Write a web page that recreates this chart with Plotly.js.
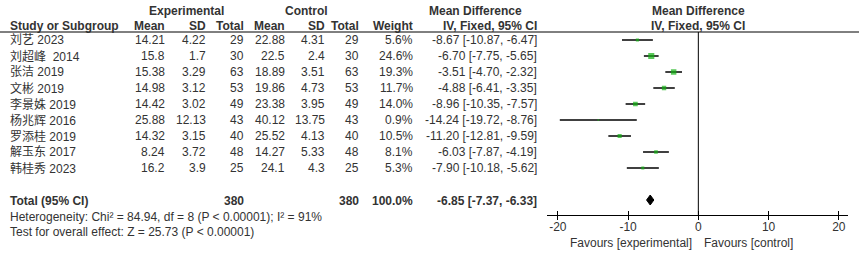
<!DOCTYPE html>
<html>
<head>
<meta charset="utf-8">
<script src="https://cdn.plot.ly/plotly-3.0.1.min.js"></script>
<style>html,body{margin:0;padding:0;background:#fff;}#chart{width:859px;height:256px;}</style>
</head>
<body>
<div id="chart"></div>
<script>
// ---- data ----
const studies = ['刘艺 2023', '刘超峰\u00a0 2014', '张洁 2019', '文彬 2019', '李景姝 2019', '杨兆辉 2016', '罗添桂 2019', '解玉东 2017', '韩桂秀 2023'];
const expMean = [14.21, 15.8, 15.38, 14.98, 14.42, 25.88, 14.32, 8.24, 16.2];
const expSD   = [4.22, 1.7, 3.29, 3.12, 3.02, 12.13, 3.15, 3.72, 3.9];
const expN    = [29, 30, 63, 53, 49, 43, 40, 48, 25];
const ctlMean = [22.88, 22.5, 18.89, 19.86, 23.38, 40.12, 25.52, 14.27, 24.1];
const ctlSD   = [4.31, 2.4, 3.51, 4.73, 3.95, 13.75, 4.13, 5.33, 4.3];
const ctlN    = [29, 30, 63, 53, 49, 43, 40, 48, 25];
const weight  = [5.6, 24.6, 19.3, 11.7, 14.0, 0.9, 10.5, 8.1, 5.3];
const md      = [-8.67, -6.70, -3.51, -4.88, -8.96, -14.24, -11.20, -6.03, -7.90];
const ciLo    = [-10.87, -7.75, -4.70, -6.41, -10.35, -19.72, -12.81, -7.87, -10.18];
const ciHi    = [-6.47, -5.65, -2.32, -3.35, -7.57, -8.76, -9.59, -4.19, -5.62];
const totalExpN = 380;
const totalCtlN = 380;
const totalWeight = 100.0;
const totalMD = -6.85;
const totalLo = -7.37;
const totalHi = -6.33;
const heterogeneityText = 'Heterogeneity: Chi² = 84.94, df = 8 (P < 0.00001); I² = 91%';
const overallText = 'Test for overall effect: Z = 25.73 (P < 0.00001)';
const tickVals = [-20, -10, 0, 10, 20];
const tickText = ['-20', '-10', '0', '10', '20'];
const favoursLeft = 'Favours [experimental]';
const favoursRight = 'Favours [control]';

// ---- geometry helpers ----
const W = 859, H = 256;
const FONT = 'Liberation Sans, Arial, Noto Sans CJK SC, sans-serif';
const TXT = '#333333';
const rowPx = i => 40 + 16 * i;
const px = x => x / W;
const py = y => 1 - y / H;

const annotations = [];
function ann(text, x, y, anchor, bold, size) {
  annotations.push({
    text: bold ? '<b>' + text + '</b>' : text,
    x: px(x), y: py(y), xref: 'paper', yref: 'paper',
    xanchor: anchor, yanchor: 'middle', showarrow: false, borderpad: 0,
    font: {family: FONT, size: size || 12, color: TXT}
  });
}

// headers
const h1 = 10.5, h2 = 25.5;
ann('Experimental', 186, h1, 'center', true);
ann('Control', 306, h1, 'center', true);
ann('Mean Difference', 476, h1, 'center', true);
ann('Mean Difference', 698, h1, 'center', true);
ann('Study or Subgroup', 9, h2, 'left', true);
ann('Mean', 166, h2, 'right', true);
ann('SD', 207, h2, 'right', true);
ann('Total', 245, h2, 'right', true);
ann('Mean', 286, h2, 'right', true);
ann('SD', 326, h2, 'right', true);
ann('Total', 360, h2, 'right', true);
ann('Weight', 414, h2, 'right', true);
ann('IV, Fixed, 95% CI', 538, h2, 'right', true);
ann('IV, Fixed, 95% CI', 698, h2, 'center', true);

// rows
studies.forEach((s, i) => {
  const y = rowPx(i);
  ann(s, 9, y, 'left');
  ann(String(expMean[i]), 166, y, 'right');
  ann(String(expSD[i]), 207, y, 'right');
  ann(String(expN[i]), 245, y, 'right');
  ann(String(ctlMean[i]), 286, y, 'right');
  ann(String(ctlSD[i]), 326, y, 'right');
  ann(String(ctlN[i]), 360, y, 'right');
  ann(weight[i].toFixed(1) + '%', 414, y, 'right');
  ann(md[i].toFixed(2) + ' [' + ciLo[i].toFixed(2) + ', ' + ciHi[i].toFixed(2) + ']', 538, y, 'right');
});

// totals
ann('Total (95% CI)', 9, 200.5, 'left', true);
ann(String(totalExpN), 245, 200.5, 'right', true);
ann(String(totalCtlN), 360, 200.5, 'right', true);
ann(totalWeight.toFixed(1) + '%', 414, 200.5, 'right', true);
ann(totalMD.toFixed(2) + ' [' + totalLo.toFixed(2) + ', ' + totalHi.toFixed(2) + ']', 538, 200.5, 'right', true);
ann(heterogeneityText, 9, 216.5, 'left');
ann(overallText, 9, 232, 'left');
ann(favoursLeft, 693, 242.5, 'right', false, 12);
ann(favoursRight, 703, 242.5, 'left', false, 12);

// ---- traces ----
const ciX = [], ciY = [];
md.forEach((m, i) => { ciX.push(ciLo[i], ciHi[i], null); ciY.push(i, i, null); });
const totalRow = 10;
const dh = 0.3125;

const traces = [
  {x: ciX, y: ciY, mode: 'lines', line: {color: '#000', width: 1.3}, hoverinfo: 'skip', showlegend: false},
  {x: md, y: md.map((_, i) => i), mode: 'markers',
   marker: {symbol: 'square', color: '#12b012', size: weight.map(w => 1.15 * Math.sqrt(w) + 0.4), line: {width: 0}},
   showlegend: false},
  {x: [totalLo, totalMD, totalHi, totalMD, totalLo], y: [totalRow, totalRow - dh, totalRow, totalRow + dh, totalRow],
   mode: 'lines', fill: 'toself', fillcolor: '#000', line: {color: '#000', width: 1}, showlegend: false},
  {x: [], y: [], xaxis: 'x2', yaxis: 'y', showlegend: false}
];

const xr = [-21.5, 21.35];
const layout = {
  width: W, height: H,
  margin: {l: 0, r: 0, t: 0, b: 0, pad: 0},
  paper_bgcolor: '#fff', plot_bgcolor: 'rgba(0,0,0,0)',
  showlegend: false,
  font: {family: FONT, color: TXT},
  xaxis: {
    domain: [547.3 / W, 848.3 / W], range: xr, fixedrange: true,
    showline: true, linecolor: '#000', linewidth: 1,
    ticks: 'inside', ticklen: 4, tickwidth: 1, tickcolor: '#000',
    tickvals: tickVals, ticktext: tickText, ticklabelstandoff: 1,
    tickfont: {family: FONT, size: 12, color: TXT},
    showgrid: false, zeroline: false, anchor: 'y'
  },
  xaxis2: {
    overlaying: 'x', anchor: 'y', side: 'bottom', range: xr, fixedrange: true,
    ticks: 'outside', ticklen: 4, tickwidth: 1, tickcolor: '#000',
    tickvals: tickVals, showticklabels: false,
    showline: false, showgrid: false, zeroline: false
  },
  yaxis: {
    domain: [py(215), py(32)], range: [10.9375, -0.5], fixedrange: true,
    visible: false, showgrid: false, zeroline: false
  },
  shapes: [
    {type: 'line', xref: 'x', yref: 'paper', x0: 0, x1: 0, y0: py(215), y1: py(32), line: {color: '#000', width: 1}},
    {type: 'line', xref: 'paper', yref: 'paper', x0: 0, x1: 1, y0: py(32), y1: py(32), line: {color: '#000', width: 1}}
  ],
  annotations: annotations
};

Plotly.newPlot('chart', traces, layout, {staticPlot: true, displayModeBar: false});
</script>
</body>
</html>
